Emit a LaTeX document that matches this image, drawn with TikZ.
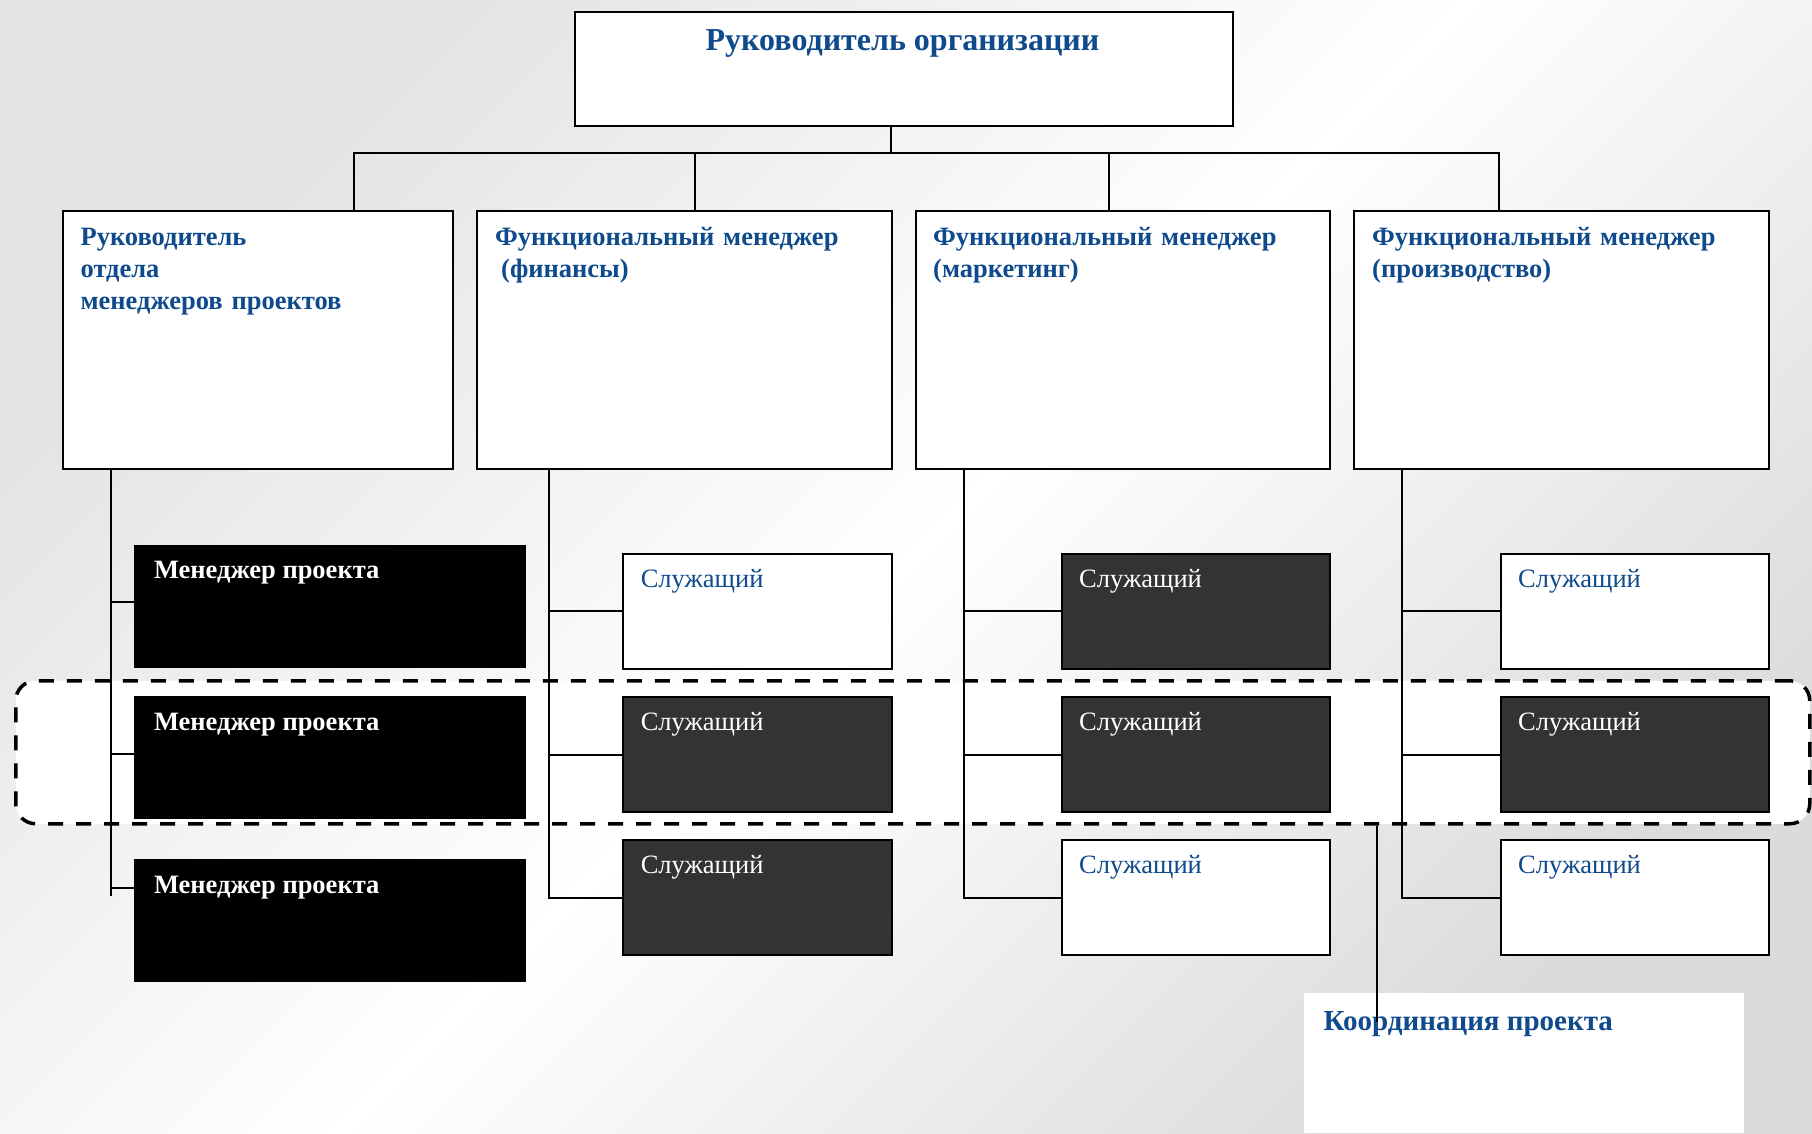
\documentclass[tikz,border=0pt]{standalone}
\usepackage{fontspec}
\setmainfont{Liberation Serif}
\definecolor{tblue}{RGB}{14,74,140}
\definecolor{dgray}{RGB}{51,51,51}
\begin{document}
\begin{tikzpicture}[x=1pt,y=-1pt,
  bx/.style={rectangle, draw=black, line width=2pt, inner sep=0pt, anchor=north west},
  whitebox/.style={bx, fill=white},
  darkbox/.style={bx, fill=dgray},
  mgrbox/.style={rectangle, fill=black, draw=none, inner sep=0pt, anchor=north west},
  conn/.style={draw=black, line width=2pt},
  bigfont/.style={font=\fontsize{26.5}{32.4}\selectfont\bfseries},
  hdr/.style={bigfont, text=tblue, inner sep=0pt, align=left, text width=380pt, anchor=base west},
  mgrt/.style={bigfont, text=white, inner sep=0pt, anchor=base west},
  empb/.style={font=\fontsize{26.5}{32.4}\selectfont, text=tblue, inner sep=0pt, anchor=base west},
  empw/.style={font=\fontsize{26.5}{32.4}\selectfont, text=white, inner sep=0pt, anchor=base west},
  grp/.style={rectangle, rounded corners=20pt, draw=black, fill=white, line width=3.5pt,
    dash pattern=on 15pt off 13pt, inner sep=0pt, anchor=north west}
]
\useasboundingbox (0,0) rectangle (1812,1133);
\shade[top color=black!11, bottom color=black!14, middle color=white, shading angle=45]
  (0,0) rectangle (1812,1133);

% project coordination band
\node[grp, minimum width=1794pt, minimum height=143pt] (grp) at (14,679) {};

% level boxes
\node[whitebox, minimum width=658pt, minimum height=114.5pt] (top) at (573.5,10.5) {};
\node[whitebox, minimum width=390pt, minimum height=258pt] (a) at (61.5,210) {};
\node[whitebox, minimum width=415pt, minimum height=258pt] (b) at (476,210) {};
\node[whitebox, minimum width=414.5pt, minimum height=258pt] (c) at (914.5,210) {};
\node[whitebox, minimum width=415pt, minimum height=258pt] (d) at (1353,210) {};

% managers
\node[mgrbox, minimum width=392pt, minimum height=123pt] (m1) at (133.8,544.4) {};
\node[mgrbox, minimum width=392pt, minimum height=123pt] (m2) at (133.8,695.8) {};
\node[mgrbox, minimum width=392pt, minimum height=123pt] (m3) at (133.8,858.5) {};

% employees
\node[whitebox, minimum width=269pt, minimum height=114.5pt] (b1) at (622,553) {};
\node[darkbox,  minimum width=269pt, minimum height=115pt] (b2) at (622,696) {};
\node[darkbox,  minimum width=269pt, minimum height=115pt] (b3) at (622,839) {};
\node[darkbox,  minimum width=268.4pt, minimum height=114.5pt] (c1) at (1060.6,553) {};
\node[darkbox,  minimum width=268.4pt, minimum height=115pt] (c2) at (1060.6,696) {};
\node[whitebox, minimum width=268.4pt, minimum height=115pt] (c3) at (1060.6,839) {};
\node[whitebox, minimum width=268.2pt, minimum height=114.5pt] (d1) at (1499.8,553) {};
\node[darkbox,  minimum width=268.2pt, minimum height=115pt] (d2) at (1499.8,696) {};
\node[whitebox, minimum width=268.2pt, minimum height=115pt] (d3) at (1499.8,839) {};

% connectors: top level
\draw[conn] (top.south -| 891,0) -- (891,153);
\draw[conn] (a.north -| 354,0) -- (354,153) -- (1499,153) -- (d.north -| 1499,0);
\draw[conn] (695,153) -- (b.north -| 695,0);
\draw[conn] (1109,153) -- (c.north -| 1109,0);

% managers trunk
\draw[conn] (a.south -| 111,0) -- (111,895.6);
\draw[conn] (111,602) -- (m1.west |- 0,602);
\draw[conn] (111,753.5) -- (m2.west |- 0,753.5);
\draw[conn] (111,888) -- (m3.west |- 0,888);

% finance trunk
\draw[conn] (b.south -| 549,0) |- (b3.west);
\draw[conn] (549,0 |- b1.west) -- (b1.west);
\draw[conn] (549,0 |- b2.west) -- (b2.west);
% marketing trunk
\draw[conn] (c.south -| 963.5,0) |- (c3.west);
\draw[conn] (963.5,0 |- c1.west) -- (c1.west);
\draw[conn] (963.5,0 |- c2.west) -- (c2.west);
% production trunk
\draw[conn] (d.south -| 1401.5,0) |- (d3.west);
\draw[conn] (1401.5,0 |- d1.west) -- (d1.west);
\draw[conn] (1401.5,0 |- d2.west) -- (d2.west);

% texts
\node[font=\fontsize{32}{36}\selectfont\bfseries, text=tblue, inner sep=0pt, anchor=base] (top-t) at (902.5,50) {Руководитель организации};
\node[hdr] (a-t) at (80.4,245) {Руководитель\\отдела\\менеджеров проектов};
\node[hdr] (b-t) at (495,245) {Функциональный менеджер\\\hspace*{6pt}(финансы)};
\node[hdr] (c-t) at (933,245) {Функциональный менеджер\\(маркетинг)};
\node[hdr] (d-t) at (1372,245) {Функциональный менеджер\\(производство)};

\node[mgrt] (m1-t) at (153.8,578.7) {Менеджер проекта};
\node[mgrt] (m2-t) at (153.8,730.3) {Менеджер проекта};
\node[mgrt] (m3-t) at (153.8,893) {Менеджер проекта};

\node[empb] (b1-t) at (640.6,587) {Служащий};
\node[empw] (b2-t) at (640.6,730) {Служащий};
\node[empw] (b3-t) at (640.6,873) {Служащий};
\node[empw] (c1-t) at (1079,587) {Служащий};
\node[empw] (c2-t) at (1079,730) {Служащий};
\node[empb] (c3-t) at (1079,873) {Служащий};
\node[empb] (d1-t) at (1518,587) {Служащий};
\node[empw] (d2-t) at (1518,730) {Служащий};
\node[empb] (d3-t) at (1518,873) {Служащий};

% coordination
\node[rectangle, fill=white, draw=none, inner sep=0pt, anchor=north west,
  minimum width=440.5pt, minimum height=140pt] (coord) at (1303.5,993) {};
\node[font=\fontsize{29}{33}\selectfont\bfseries, text=tblue, inner sep=0pt, anchor=base west] (coord-t) at (1323.4,1030.7) {Координация проекта};
\coordinate (cend) at (1377,1022);
\draw[conn] (grp.south -| cend) -- (cend);
\end{tikzpicture}
\end{document}
